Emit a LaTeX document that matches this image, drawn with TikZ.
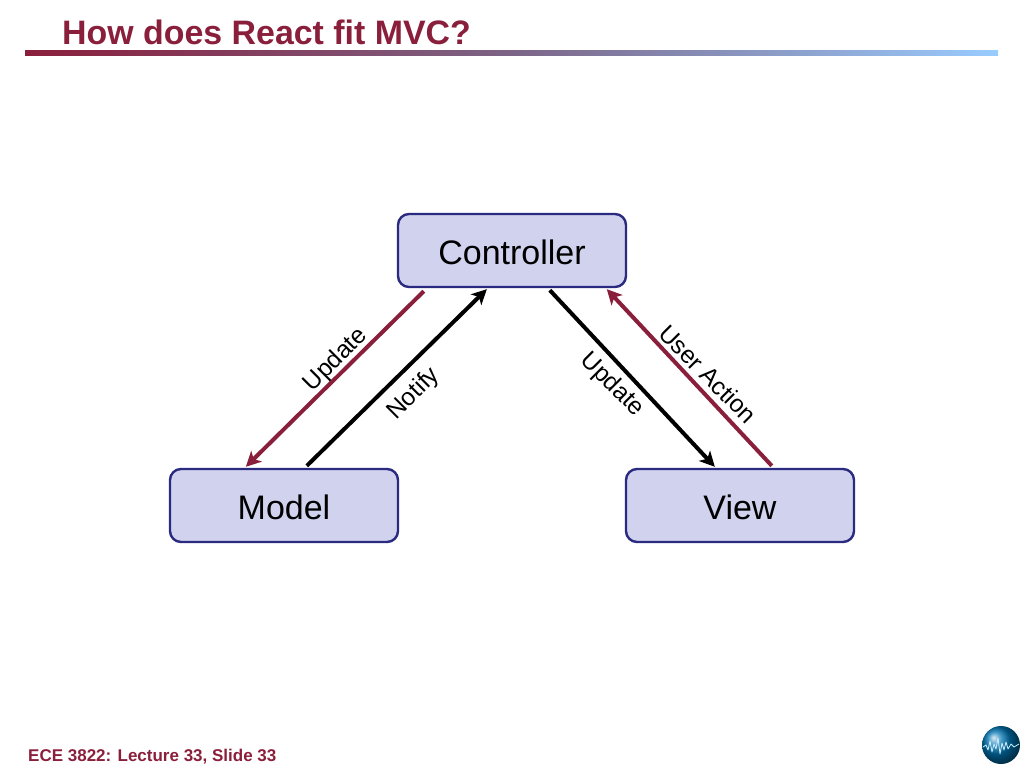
\documentclass[tikz,border=0pt]{standalone}
\usepackage{fontspec}
\setmainfont{Liberation Sans}
\usetikzlibrary{arrows.meta}
\definecolor{slidered}{HTML}{8A1F3C}
\definecolor{slideblue}{HTML}{99CCFF}
\definecolor{boxedge}{HTML}{2A2A80}
\definecolor{boxfill}{HTML}{D0D2EE}
\tikzset{
  block/.style={draw=boxedge, fill=boxfill, line width=2.4pt, rounded corners=11pt,
    minimum width=228pt, minimum height=73pt, inner sep=0pt, text height=27pt, text depth=0pt,
    font=\fontsize{34}{40}\selectfont},
  link/.style={line width=4pt, -{Stealth[length=15pt,width=15pt,inset=4pt]}},
  redlink/.style={link, draw=slidered},
  blacklink/.style={link, draw=black},
  tag/.style={font=\fontsize{24.5}{30}\selectfont, inner sep=0pt},
  heading/.style={font=\bfseries\fontsize{33.9}{40}\selectfont, text=slidered, inner sep=0pt, anchor=base west},
  footer/.style={font=\bfseries\fontsize{17}{20}\selectfont, text=slidered, inner sep=0pt, anchor=base west}
}
\begin{document}
\begin{tikzpicture}[x=1pt,y=-1pt,line cap=butt, line join=round]
    \useasboundingbox (0,0) rectangle (1024,768);
    % title bar
    \node [heading] (title) at (62,45) {How does React fit MVC?};
    \path [left color=slidered, right color=slideblue, middle color=slidered!50!slideblue!85!black]
        (25,51) rectangle (998,56);
    \node [footer] (foot) at (28,761) {ECE 3822: Lecture 33, Slide 33};
    % blocks
    \node [block] (controller) at (512,250.5) {Controller};
    \node [block] (model) at (284,505.5) {Model};
    \node [block] (view) at (740,505.5) {View};
    % links
    \draw [redlink] ([xshift=27pt,yshift=-3pt]controller.south west) -- ([xshift=77pt,yshift=1pt]model.north west);
    \draw [blacklink] ([xshift=138pt,yshift=2pt]model.north west) -- ([xshift=90pt,yshift=-1pt]controller.south west);
    \draw [blacklink] ([xshift=153pt,yshift=-2pt]controller.south west) -- ([xshift=90pt,yshift=1pt]view.north west);
    \draw [redlink] ([xshift=147pt,yshift=2pt]view.north west) -- ([xshift=210pt,yshift=-1pt]controller.south west);
    % link labels
    \node [tag, rotate=45] (updateleft) at (336,360) {Update};
    \node [tag, rotate=45] (notify) at (414,394) {Notify};
    \node [tag, rotate=-45] (updateright) at (612,385) {Update};
    \node [tag, rotate=-45] (useraction) at (708,374) {User Action};
    % logo
    \shade [ball color=blue!35!cyan!70!black] (1001,745) circle (19);
    \draw [white!80!cyan, line width=0.8pt]
        (983,747) -- (986,745) -- (988,750) -- (990,741) -- (992,752) -- (994,744) -- (996,749)
        -- (998,738) -- (1000,754) -- (1002,743) -- (1004,750) -- (1006,742) -- (1008,749)
        -- (1011,744) -- (1014,747) -- (1019,744);
\end{tikzpicture}
\end{document}
